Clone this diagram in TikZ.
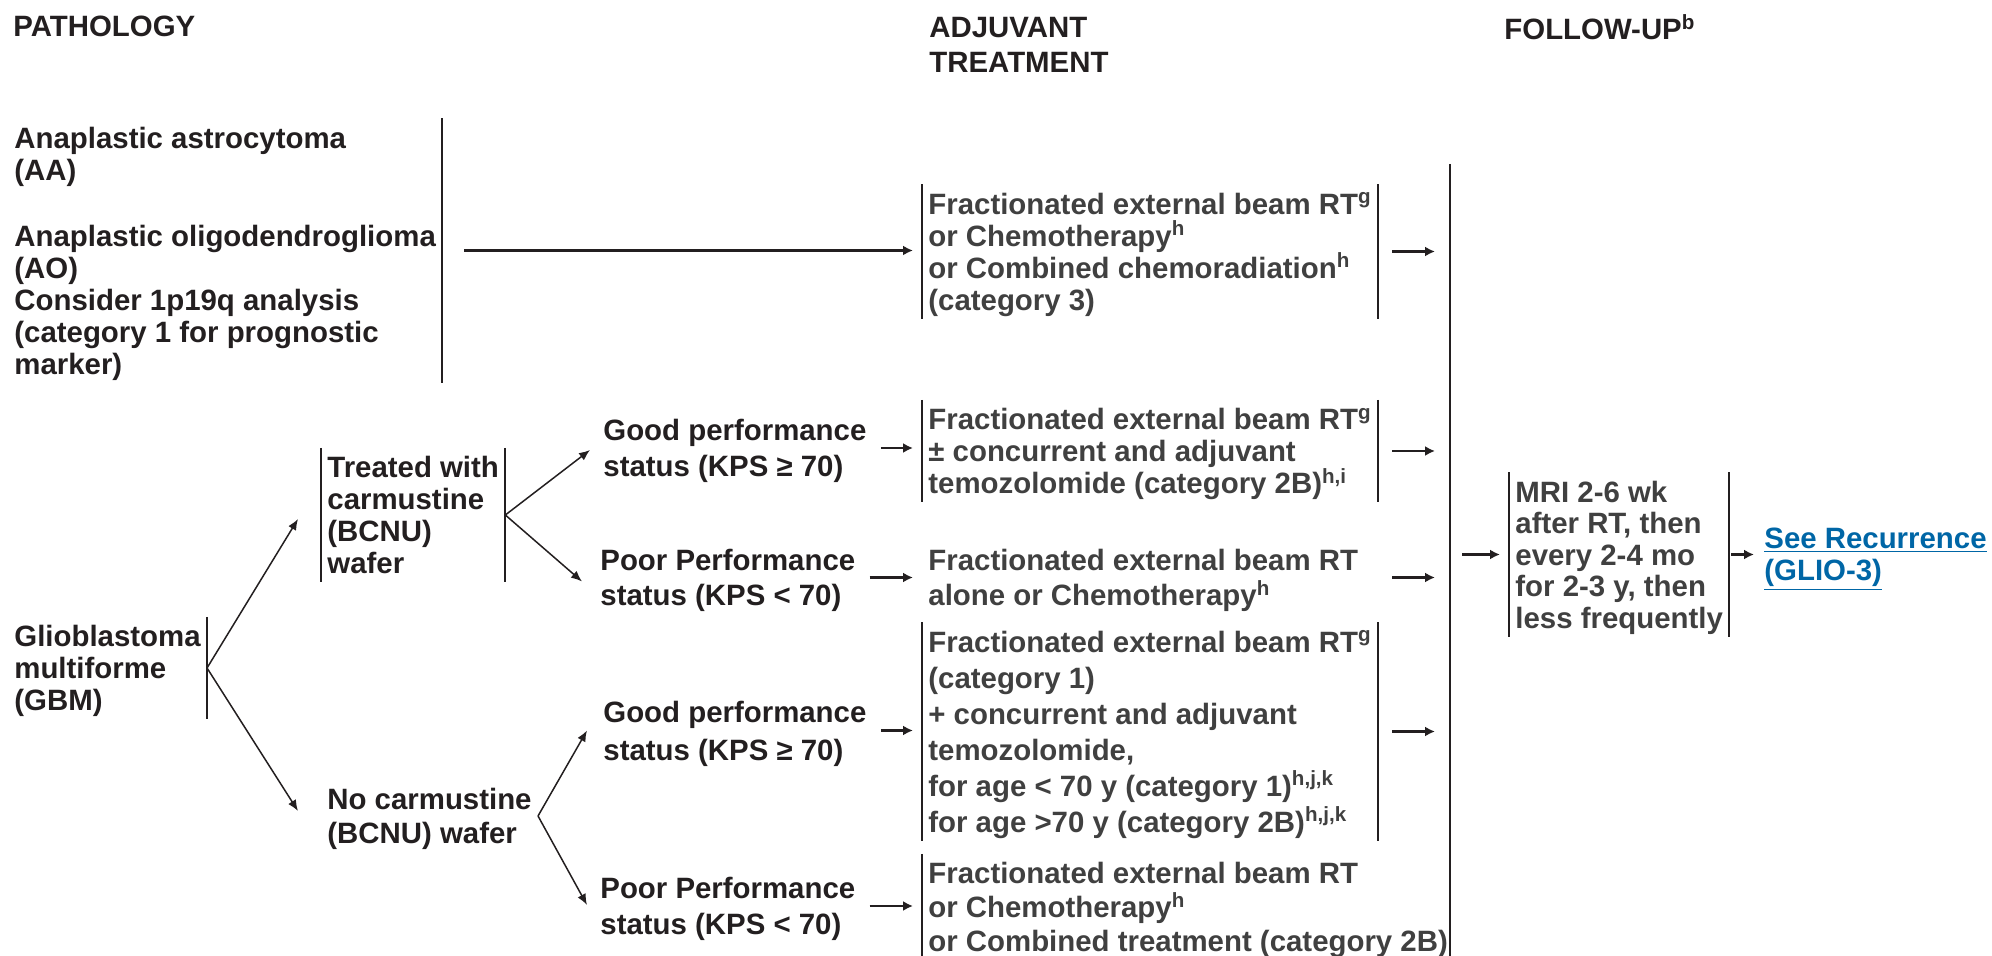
\documentclass[tikz,border=0pt]{standalone}
\usepackage{fontspec}
\setmainfont{Liberation Sans}
\usetikzlibrary{arrows.meta}
\definecolor{ink}{HTML}{231F20}
\definecolor{grayink}{HTML}{404040}
\definecolor{linkblue}{HTML}{0066A6}
\newcommand{\fsz}[1]{\fontsize{14.7pt}{#1}\selectfont\bfseries}

\begin{document}
\begin{tikzpicture}[x=0.5pt, y=-0.5pt,
        txt/.style={anchor=west, align=left, inner xsep=3pt, inner ysep=4pt, text depth=0pt, text=ink, font=\fsz{16pt}},
        trt/.style={txt, text=grayink},
        bar/.style={draw=ink, line width=1pt},
        arr/.style={draw=ink, line width=1.2pt, -{Latex[length=5pt, width=5pt]}},
        branch/.style={draw=ink, line width=0.75pt, -{Latex[length=5.5pt, width=4.5pt]}}]
        \useasboundingbox (0, 0) rectangle (1992, 956);

        \node[txt] (hpath) at (7, 26) {PATHOLOGY};
        \node[txt, font=\fsz{17.5pt}] (hadj) at (923, 44.5) {ADJUVANT\\TREATMENT};
        \node[txt] (hfol) at (1498, 27) {FOLLOW-UP\textsuperscript{b}};

        \node[txt] (aa) at (8, 250.5) {Anaplastic astrocytoma\\(AA)\\[17pt]Anaplastic oligodendroglioma\\(AO)\\Consider 1p19q analysis\\(category 1 for prognostic\\marker)};
        \node[txt] (gbm) at (8, 668) {Glioblastoma\\multiforme\\(GBM)};
        \node[txt] (treated) at (321, 515) {Treated with\\carmustine\\(BCNU)\\wafer};
        \node[txt, font=\fsz{17pt}] (nocarm) at (321, 816) {No carmustine\\(BCNU) wafer};

        \node[txt, font=\fsz{18pt}] (good1) at (597, 448) {Good performance\\status (KPS ≥ 70)};
        \node[txt, font=\fsz{17.5pt}] (poor1) at (594, 577.5) {Poor Performance\\status (KPS < 70)};
        \node[txt, font=\fsz{19pt}] (good2) at (597, 730.5) {Good performance\\status (KPS ≥ 70)};
        \node[txt, font=\fsz{18pt}] (poor2) at (594, 906) {Poor Performance\\status (KPS < 70)};

        \node[trt] (t1) at (922, 251.5) {Fractionated external beam RT\textsuperscript{g}\\or Chemotherapy\textsuperscript{h}\\or Combined chemoradiation\textsuperscript{h}\\(category 3)};
        \node[trt] (t2) at (922, 451) {Fractionated external beam RT\textsuperscript{g}\\± concurrent and adjuvant\\temozolomide (category 2B)\textsuperscript{h,i}};
        \node[trt, font=\fsz{17.5pt}] (t3) at (922, 577.5) {Fractionated external beam RT\\alone or Chemotherapy\textsuperscript{h}};
        \node[trt, font=\fsz{18pt}] (t4) at (922, 731.5) {Fractionated external beam RT\textsuperscript{g}\\(category 1)\\+ concurrent and adjuvant\\temozolomide,\\for age < 70 y (category 1)\textsuperscript{h,j,k}\\for age >70 y (category 2B)\textsuperscript{h,j,k}};
        \node[trt, font=\fsz{17pt}] (t5) at (922, 907) {Fractionated external beam RT\\or Chemotherapy\textsuperscript{h}\\or Combined treatment (category 2B)};

        \node[trt, font=\fsz{15.75pt}] (mri) at (1509, 554.5) {MRI 2-6 wk\\after RT, then\\every 2-4 mo\\for 2-3 y, then\\less frequently};
        \node[txt, text=linkblue] (rec) at (1758, 554) {\underline{See Recurrence}\\\underline{(GLIO-3)}};

        \coordinate (spine) at (1450, 164);
        \coordinate (spineend) at (1450, 956);

        % bars
        \draw[bar] (aa.north east) -- (aa.south east);
        \draw[bar] (gbm.north east) -- (gbm.south east);
        \foreach \n in {treated, t1, t2, t4, mri} {
            \draw[bar] (\n.north west) -- (\n.south west);
            \draw[bar] (\n.north east) -- (\n.south east);
        }
        \draw[bar] (t5.north west) -- (t5.south west);
        \draw[bar] (spine) -- (spineend);

        % tree
        \draw[branch] (gbm.east) -- ([shift={(-23, 4)}]treated.west);
        \draw[branch] (gbm.east) -- ([shift={(-23, -5)}]nocarm.west);
        \draw[branch] (treated.east) -- ([shift={(-7, 2)}]good1.west);
        \draw[branch] (treated.east) -- ([shift={(-12, 4)}]poor1.west);
        \draw[branch] (nocarm.east) -- ([shift={(-10, 0)}]good2.west);
        \draw[branch] (nocarm.east) -- ([shift={(-7, -1)}]poor2.west);

        \draw[arr, shorten <=11pt, shorten >=4.5pt] (aa.east) -- (aa.east -| t1.west);
        \draw[arr, shorten <=4pt, shorten >=4.5pt] (good1.east) -- (good1.east -| t2.west);
        \draw[arr, shorten <=4pt, shorten >=4.5pt] (poor1.east) -- (poor1.east -| t3.west);
        \draw[arr, shorten <=4pt, shorten >=4.5pt] (good2.east) -- (good2.east -| t4.west);
        \draw[arr, shorten <=4pt, shorten >=4.5pt] (poor2.east) -- (poor2.east -| t5.west);

        \foreach \n in {t1, t2, t3, t4}
            \draw[arr, shorten >=7.5pt] ([xshift=-29pt]spine |- \n.east) -- (spine |- \n.east);
        \draw[arr, shorten <=6pt, shorten >=4.5pt] (spine |- mri.west) -- (mri.west);
        \draw[arr, shorten <=1pt, shorten >=2pt] (mri.east) -- (mri.east -| rec.west);
\end{tikzpicture}
\end{document}
